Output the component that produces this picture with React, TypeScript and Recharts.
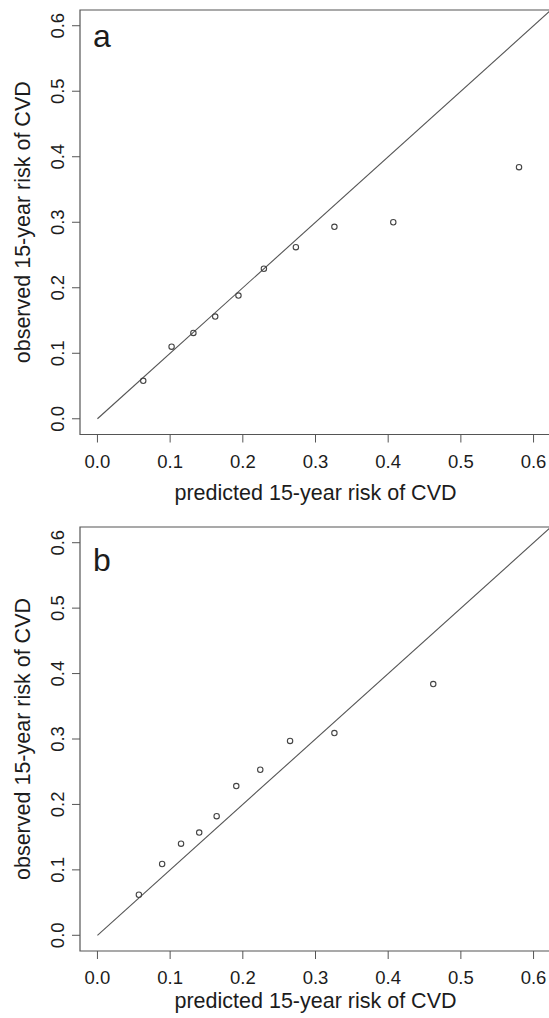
import {
  ScatterChart,
  Scatter,
  XAxis,
  YAxis,
  ReferenceLine,
  ReferenceArea,
  Label,
} from "recharts";

const axisTicks = [0, 0.1, 0.2, 0.3, 0.4, 0.5, 0.6];
const axisMin = -0.024;
const axisMax = 0.624;

const predictedA = [0.063, 0.102, 0.132, 0.162, 0.194, 0.229, 0.273, 0.326, 0.407, 0.58];
const observedA = [0.058, 0.11, 0.131, 0.156, 0.188, 0.229, 0.262, 0.293, 0.3, 0.384];

const predictedB = [0.057, 0.089, 0.115, 0.14, 0.164, 0.191, 0.224, 0.265, 0.326, 0.462];
const observedB = [0.062, 0.109, 0.14, 0.157, 0.182, 0.228, 0.253, 0.297, 0.309, 0.384];

const xTitle = "predicted 15-year risk of CVD";
const yTitle = "observed 15-year risk of CVD";

const font = "'Liberation Sans', Arial, Helvetica, sans-serif";
const ink = "#1c1c1c";
const lineGray = "#555";

function toPoints(xs: number[], ys: number[]) {
  return xs.map((x, i) => ({ x, y: ys[i] }));
}

function XTick(props: any) {
  const { x, y, payload } = props;
  return (
    <text x={x} y={y + 25} textAnchor="middle" fontSize={18.5} fontFamily={font} fill={ink}>
      {Number(payload.value).toFixed(1)}
    </text>
  );
}

function YTick(props: any) {
  const { x, y, payload } = props;
  const bx = x - 8;
  return (
    <text
      x={bx}
      y={y}
      textAnchor="middle"
      fontSize={18.5}
      fontFamily={font}
      fill={ink}
      transform={`rotate(-90, ${bx}, ${y})`}
    >
      {Number(payload.value).toFixed(1)}
    </text>
  );
}

function OpenCircle(props: any) {
  const { cx, cy } = props;
  return <circle cx={cx} cy={cy} r={2.7} fill="none" stroke="#444" strokeWidth={1.1} />;
}

function Panel({
  letter,
  points,
  height,
  marginTop,
  axisHeight,
  letterDrop,
  titleDrop,
}: {
  letter: string;
  points: { x: number; y: number }[];
  height: number;
  marginTop: number;
  axisHeight: number;
  letterDrop: number;
  titleDrop: number;
}) {
  return (
    <ScatterChart
      width={551}
      height={height}
      margin={{ top: marginTop, right: 0, bottom: 0, left: 0 }}
    >
      <XAxis
        type="number"
        dataKey="x"
        domain={[axisMin, axisMax]}
        ticks={axisTicks}
        allowDataOverflow
        axisLine={false}
        tickSize={8}
        tickMargin={0}
        tickLine={{ stroke: lineGray }}
        tick={<XTick />}
        height={axisHeight}
      >
        <Label
          content={(p: any) => {
            const vb = p.viewBox;
            return (
              <text
                x={vb.x + vb.width / 2}
                y={vb.y + titleDrop}
                textAnchor="middle"
                fontSize={21.5}
                fontFamily={font}
                fill={ink}
              >
                {xTitle}
              </text>
            );
          }}
        />
      </XAxis>
      <YAxis
        type="number"
        dataKey="y"
        domain={[axisMin, axisMax]}
        ticks={axisTicks}
        allowDataOverflow
        axisLine={false}
        tickSize={8}
        tickMargin={0}
        tickLine={{ stroke: lineGray }}
        tick={<YTick />}
        width={80}
      >
        <Label
          content={(p: any) => {
            const vb = p.viewBox;
            const cy = vb.y + vb.height / 2;
            return (
              <g>
                <text
                  x={30}
                  y={cy}
                  textAnchor="middle"
                  fontSize={21.5}
                  fontFamily={font}
                  fill={ink}
                  transform={`rotate(-90, 30, ${cy})`}
                >
                  {yTitle}
                </text>
                <text
                  x={vb.x + vb.width + 13}
                  y={vb.y + letterDrop}
                  fontSize={32}
                  fontFamily={font}
                  fill={ink}
                >
                  {letter}
                </text>
              </g>
            );
          }}
        />
      </YAxis>
      <ReferenceArea
        x1={axisMin}
        x2={axisMax}
        y1={axisMin}
        y2={axisMax}
        fill="none"
        stroke={lineGray}
        strokeWidth={1.2}
        ifOverflow="visible"
      />
      <ReferenceLine
        segment={[
          { x: 0, y: 0 },
          { x: axisMax, y: axisMax },
        ]}
        stroke={lineGray}
        strokeWidth={1.1}
        ifOverflow="visible"
      />
      <Scatter data={points} shape={<OpenCircle />} isAnimationActive={false} />
    </ScatterChart>
  );
}

export default function App() {
  return (
    <div
      style={{
        position: "absolute",
        top: 0,
        left: 0,
        width: 549,
        height: 1018,
        overflow: "hidden",
        background: "#fff",
      }}
    >
      <div style={{ position: "absolute", top: 0, left: 0 }}>
        <Panel
          letter="a"
          points={toPoints(predictedA, observedA)}
          height={516}
          marginTop={10}
          axisHeight={81.5}
          letterDrop={37}
          titleDrop={65}
        />
      </div>
      <div style={{ position: "absolute", top: 516, left: 0 }}>
        <Panel
          letter="b"
          points={toPoints(predictedB, observedB)}
          height={502}
          marginTop={11}
          axisHeight={67}
          letterDrop={44}
          titleDrop={57}
        />
      </div>
    </div>
  );
}
